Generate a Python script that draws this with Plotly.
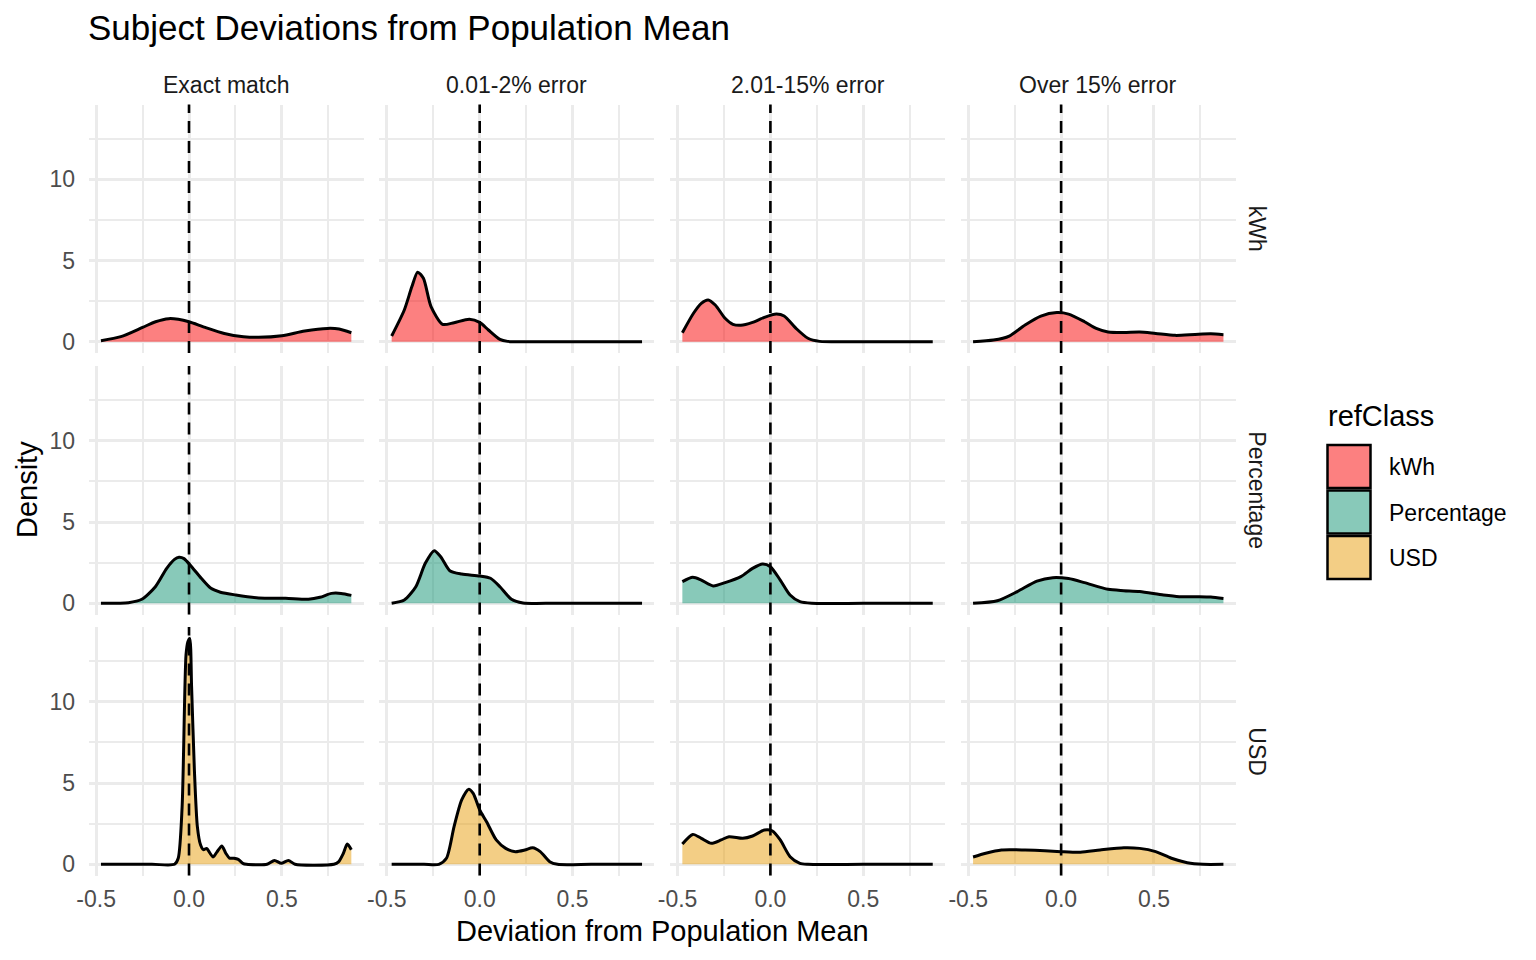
import plotly.graph_objects as go

# ---------------- data ----------------
CATEGORIES = ["Exact match", "0.01-2% error", "2.01-15% error", "Over 15% error"]
REF_CLASSES = ["kWh", "Percentage", "USD"]
X_TICK_VALUES = [-0.5, 0.0, 0.5]
X_TICK_LABELS = ["-0.5", "0.0", "0.5"]
Y_TICK_VALUES = [0, 5, 10]
Y_TICK_LABELS = ["0", "5", "10"]
REFERENCE_LINE_X = 0.0

# kWh
KWH_EXACT_X = [-0.474, -0.367, -0.25, -0.18, -0.109, -0.058, 0.0, 0.087, 0.19, 0.293, 0.375, 0.5, 0.623, 0.746, 0.808, 0.874]
KWH_EXACT_Y = [0.06, 0.31, 0.88, 1.23, 1.42, 1.38, 1.23, 0.88, 0.51, 0.31, 0.27, 0.37, 0.66, 0.82, 0.78, 0.55]
KWH_LOW_X = [-0.474, -0.406, -0.365, -0.334, -0.303, -0.262, -0.2, -0.138, -0.056, 0.0, 0.047, 0.109, 0.15, 0.3, 0.5, 0.7, 0.874]
KWH_LOW_Y = [0.35, 1.95, 3.39, 4.28, 3.9, 2.16, 1.07, 1.17, 1.38, 1.19, 0.72, 0.14, 0.02, 0.0, 0.0, 0.0, 0.0]
KWH_MID_X = [-0.474, -0.414, -0.372, -0.335, -0.297, -0.244, -0.202, -0.159, -0.096, -0.032, 0.032, 0.074, 0.138, 0.202, 0.265, 0.5, 0.874]
KWH_MID_Y = [0.55, 1.75, 2.36, 2.57, 2.26, 1.44, 1.07, 1.01, 1.19, 1.50, 1.70, 1.58, 0.82, 0.21, 0.02, 0.0, 0.0]
KWH_HIGH_X = [-0.474, -0.364, -0.279, -0.194, -0.109, -0.023, 0.04, 0.126, 0.189, 0.253, 0.338, 0.423, 0.509, 0.615, 0.721, 0.806, 0.874]
KWH_HIGH_Y = [0.0, 0.1, 0.35, 1.03, 1.58, 1.79, 1.70, 1.23, 0.82, 0.6, 0.57, 0.6, 0.51, 0.39, 0.45, 0.49, 0.43]

# Percentage
PCT_EXACT_X = [-0.474, -0.326, -0.254, -0.181, -0.12, -0.078, -0.054, -0.027, 0.014, 0.066, 0.118, 0.169, 0.252, 0.375, 0.52, 0.643, 0.705, 0.767, 0.819, 0.874]
PCT_EXACT_Y = [0.0, 0.04, 0.25, 1.02, 2.15, 2.7, 2.83, 2.75, 2.25, 1.54, 0.92, 0.68, 0.51, 0.33, 0.31, 0.25, 0.37, 0.61, 0.61, 0.49]
PCT_LOW_X = [-0.474, -0.406, -0.344, -0.293, -0.245, -0.21, -0.159, -0.097, 0.0, 0.058, 0.109, 0.171, 0.233, 0.4, 0.6, 0.874]
PCT_LOW_Y = [0.0, 0.2, 1.02, 2.46, 3.24, 2.87, 1.99, 1.80, 1.68, 1.54, 1.02, 0.25, 0.02, 0.0, 0.0, 0.0]
PCT_MID_X = [-0.474, -0.418, -0.372, -0.308, -0.244, -0.159, -0.096, -0.042, 0.0, 0.053, 0.106, 0.159, 0.223, 0.5, 0.874]
PCT_MID_Y = [1.33, 1.60, 1.43, 1.07, 1.27, 1.64, 2.15, 2.42, 2.25, 1.43, 0.51, 0.1, 0.0, 0.0, 0.0]
PCT_HIGH_X = [-0.474, -0.343, -0.236, -0.13, -0.045, 0.04, 0.126, 0.253, 0.338, 0.423, 0.551, 0.636, 0.743, 0.806, 0.874]
PCT_HIGH_Y = [0.0, 0.16, 0.72, 1.37, 1.58, 1.52, 1.27, 0.86, 0.78, 0.72, 0.51, 0.41, 0.41, 0.39, 0.29]

# USD
USD_EXACT_X = [-0.474, -0.2, -0.078, -0.058, -0.037, -0.016, -0.006, 0.004, 0.014, 0.029, 0.045, 0.062, 0.078, 0.095, 0.112, 0.13, 0.15, 0.177, 0.198, 0.218, 0.242, 0.265, 0.29, 0.31, 0.42, 0.46, 0.497, 0.535, 0.571, 0.78, 0.805, 0.83, 0.852, 0.874]
USD_EXACT_Y = [0.0, 0.0, 0.0, 0.37, 3.55, 12.9, 13.7, 13.9, 10.9, 5.8, 2.32, 1.2, 0.9, 0.98, 0.7, 0.45, 0.75, 1.13, 0.68, 0.38, 0.37, 0.3, 0.06, 0.0, 0.0, 0.24, 0.06, 0.24, 0.0, 0.0, 0.15, 0.65, 1.25, 0.9]
USD_LOW_X = [-0.474, -0.3, -0.22, -0.179, -0.138, -0.097, -0.06, -0.035, 0.0, 0.037, 0.089, 0.14, 0.192, 0.243, 0.285, 0.326, 0.377, 0.419, 0.6, 0.874]
USD_LOW_Y = [0.0, 0.0, 0.0, 0.37, 2.32, 3.96, 4.61, 4.36, 3.34, 2.62, 1.5, 0.98, 0.78, 0.88, 1.02, 0.78, 0.16, 0.0, 0.0, 0.0]
USD_MID_X = [-0.474, -0.418, -0.372, -0.318, -0.265, -0.223, -0.149, -0.096, -0.032, 0.011, 0.053, 0.106, 0.159, 0.202, 0.5, 0.874]
USD_MID_Y = [1.25, 1.84, 1.6, 1.29, 1.5, 1.7, 1.6, 1.74, 2.11, 2.05, 1.5, 0.47, 0.06, 0.0, 0.0, 0.0]
USD_HIGH_X = [-0.474, -0.406, -0.321, -0.194, -0.087, 0.0, 0.104, 0.21, 0.338, 0.423, 0.509, 0.594, 0.679, 0.764, 0.874]
USD_HIGH_Y = [0.45, 0.68, 0.88, 0.88, 0.84, 0.78, 0.74, 0.88, 1.02, 0.98, 0.78, 0.37, 0.10, 0.0, 0.0]

CURVES = {
    ("kWh", "Exact match"): (KWH_EXACT_X, KWH_EXACT_Y),
    ("kWh", "0.01-2% error"): (KWH_LOW_X, KWH_LOW_Y),
    ("kWh", "2.01-15% error"): (KWH_MID_X, KWH_MID_Y),
    ("kWh", "Over 15% error"): (KWH_HIGH_X, KWH_HIGH_Y),
    ("Percentage", "Exact match"): (PCT_EXACT_X, PCT_EXACT_Y),
    ("Percentage", "0.01-2% error"): (PCT_LOW_X, PCT_LOW_Y),
    ("Percentage", "2.01-15% error"): (PCT_MID_X, PCT_MID_Y),
    ("Percentage", "Over 15% error"): (PCT_HIGH_X, PCT_HIGH_Y),
    ("USD", "Exact match"): (USD_EXACT_X, USD_EXACT_Y),
    ("USD", "0.01-2% error"): (USD_LOW_X, USD_LOW_Y),
    ("USD", "2.01-15% error"): (USD_MID_X, USD_MID_Y),
    ("USD", "Over 15% error"): (USD_HIGH_X, USD_HIGH_Y),
}

# ---------------- styling ----------------
W, H = 1536, 960
OFF = 8  # page body margin in the browser
FONT = "Liberation Sans, Arial, Helvetica, sans-serif"
FILL = {
    "kWh": "rgba(249,1,1,0.5)",
    "Percentage": "rgba(17,147,115,0.5)",
    "USD": "rgba(231,157,11,0.5)",
}
GRID = "#EBEBEB"

COL_LEFT = [88.7, 379.4, 670.1, 960.8]
PANEL_W = 274.9
ROW_TOP = [104.5, 366.1, 627.1]
PANEL_H = 248.5
X_RANGE = [-0.54, 0.94]
Y_RANGE = [-0.695, 14.595]


def px_x(p):
    return (p - OFF) / W


def px_y(p):
    return 1 - (p - OFF) / H


fig = go.Figure()
layout = {}
shapes = []
annotations = []

for r, cls in enumerate(REF_CLASSES):
    for c, cat in enumerate(CATEGORIES):
        idx = r * 4 + c + 1
        xa = "x" if idx == 1 else f"x{idx}"
        ya = "y" if idx == 1 else f"y{idx}"
        xs, ys = CURVES[(cls, cat)]
        fig.add_trace(go.Scatter(
            x=xs, y=ys, xaxis=xa, yaxis=ya, mode="lines",
            line=dict(color="black", width=3, shape="spline", smoothing=0.7),
            fill="tozeroy", fillcolor=FILL[cls],
            showlegend=False, hoverinfo="skip", name=cls,
        ))
        xkey = "xaxis" if idx == 1 else f"xaxis{idx}"
        ykey = "yaxis" if idx == 1 else f"yaxis{idx}"
        left = COL_LEFT[c]
        top = ROW_TOP[r]
        layout[xkey] = dict(
            domain=[px_x(left), px_x(left + PANEL_W)], range=X_RANGE, anchor=ya,
            tickmode="array", tickvals=X_TICK_VALUES, ticktext=X_TICK_LABELS,
            showticklabels=(r == len(REF_CLASSES) - 1),
            ticks="outside", ticklen=3, tickcolor="rgba(0,0,0,0)",
            tickfont=dict(family=FONT, size=23, color="#4D4D4D"),
            showgrid=True, gridcolor=GRID, gridwidth=3,
            minor=dict(tickvals=[-0.25, 0.25, 0.75], showgrid=True, gridcolor=GRID, gridwidth=1.6, ticks=""),
            zeroline=False, showline=False, automargin=False, fixedrange=True,
        )
        layout[ykey] = dict(
            domain=[px_y(top + PANEL_H), px_y(top)], range=Y_RANGE, anchor=xa,
            tickmode="array", tickvals=Y_TICK_VALUES, ticktext=Y_TICK_LABELS,
            showticklabels=(c == 0),
            ticks="outside", ticklen=8, tickcolor="rgba(0,0,0,0)",
            tickfont=dict(family=FONT, size=23, color="#4D4D4D"),
            showgrid=True, gridcolor=GRID, gridwidth=3,
            minor=dict(tickvals=[2.5, 7.5, 12.5], showgrid=True, gridcolor=GRID, gridwidth=1.6, ticks=""),
            zeroline=False, showline=False, automargin=False, fixedrange=True,
        )
        shapes.append(dict(
            type="line", xref=xa, yref=f"{ya} domain",
            x0=REFERENCE_LINE_X, x1=REFERENCE_LINE_X, y0=0, y1=1,
            line=dict(color="black", width=2.6, dash="12px,8px"), layer="above",
        ))

# strip labels (top)
for c, cat in enumerate(CATEGORIES):
    annotations.append(dict(
        text=cat, xref="paper", yref="paper",
        x=px_x(COL_LEFT[c] + PANEL_W / 2), y=px_y(85),
        xanchor="center", yanchor="middle", showarrow=False,
        font=dict(family=FONT, size=23, color="#1A1A1A"),
    ))
# strip labels (right)
for r, cls in enumerate(REF_CLASSES):
    annotations.append(dict(
        text=cls, xref="paper", yref="paper",
        x=px_x(1257), y=px_y(ROW_TOP[r] + PANEL_H / 2),
        xanchor="center", yanchor="middle", showarrow=False, textangle=90,
        font=dict(family=FONT, size=23, color="#1A1A1A"),
    ))

# axis titles
annotations.append(dict(
    text="Deviation from Population Mean", xref="paper", yref="paper",
    x=px_x((COL_LEFT[0] + COL_LEFT[3] + PANEL_W) / 2), y=px_y(931),
    xanchor="center", yanchor="middle", showarrow=False,
    font=dict(family=FONT, size=29, color="black"),
))
annotations.append(dict(
    text="Density", xref="paper", yref="paper",
    x=px_x(27), y=px_y((ROW_TOP[0] + ROW_TOP[2] + PANEL_H) / 2),
    xanchor="center", yanchor="middle", showarrow=False, textangle=-90,
    font=dict(family=FONT, size=29, color="black"),
))

# legend (drawn manually to match ggplot's square keys)
annotations.append(dict(
    text="refClass", xref="paper", yref="paper",
    x=px_x(1326), y=px_y(416), xanchor="left", yanchor="middle", showarrow=False,
    font=dict(family=FONT, size=29, color="black"),
))
KEY_TOPS = [445, 490.5, 536]
for i, cls in enumerate(REF_CLASSES):
    t = KEY_TOPS[i]
    shapes.append(dict(
        type="rect", xref="paper", yref="paper",
        x0=px_x(1327.5), x1=px_x(1370.5), y0=px_y(t + 43), y1=px_y(t),
        fillcolor=FILL[cls], line=dict(color="black", width=2.5), layer="above",
    ))
    annotations.append(dict(
        text=cls, xref="paper", yref="paper",
        x=px_x(1387), y=px_y(t + 22), xanchor="left", yanchor="middle", showarrow=False,
        font=dict(family=FONT, size=23, color="black"),
    ))

fig.update_layout(
    width=W, height=H,
    margin=dict(l=0, r=0, t=0, b=0),
    paper_bgcolor="white", plot_bgcolor="white",
    showlegend=False,
    title=dict(
        text="Subject Deviations from Population Mean",
        xref="container", yref="container", x=(88 - OFF) / W, y=1 - (28 - OFF) / H,
        xanchor="left", yanchor="middle",
        font=dict(family=FONT, size=35, color="black"),
    ),
    shapes=shapes, annotations=annotations,
    **layout,
)

fig.write_html("out.html")
